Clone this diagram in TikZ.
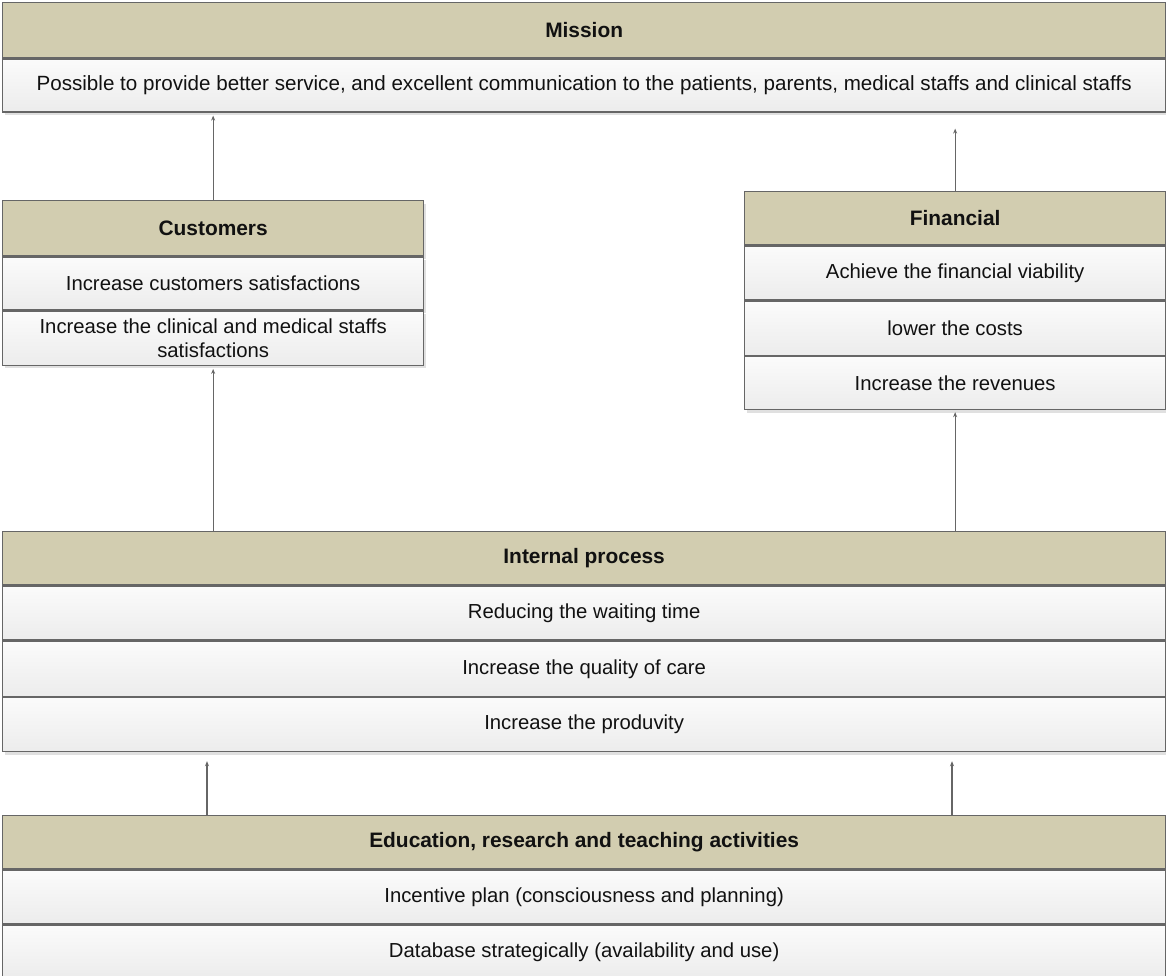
\documentclass[tikz,border=0pt]{standalone}
\usepackage{fontspec}
\setmainfont{Liberation Sans}
\usetikzlibrary{arrows.meta,shadows}

\definecolor{hdrfill}{HTML}{D2CDB0}
\definecolor{edgegray}{HTML}{666666}
\definecolor{rowtop}{HTML}{FBFBFB}
\definecolor{rowbot}{HTML}{ECECEC}
\definecolor{inkcol}{HTML}{111111}

\begin{document}
\begin{tikzpicture}[x=1pt,y=-1pt,
  box/.style={draw=edgegray, line width=1.3pt, rectangle, inner sep=0pt,
    anchor=north west, align=center, text=inkcol,
    font=\fontsize{20.3}{24}\selectfont,
    drop shadow={shadow xshift=2pt, shadow yshift=-3pt, opacity=1, fill=black!12}},
  hdr/.style={box, fill=hdrfill, font=\fontsize{20.9}{24}\selectfont\bfseries},
  row/.style={box, top color=rowtop, bottom color=rowbot},
  wide/.style={minimum width=1163pt},
  narrow/.style={minimum width=421pt},
  arr/.style={draw=edgegray, line width=1.3pt, -{Stealth[length=5pt,width=4pt]}}
]
\useasboundingbox (0,0) rectangle (1166,976);

% Mission
\node[hdr, wide, minimum height=55pt] (mh) at (2,2) {Mission};
\node[row, wide, minimum height=53pt] (m1) at (mh.south west)
  {\fontsize{20.6}{24}\selectfont Possible to provide better service, and excellent communication to the patients, parents, medical staffs and clinical staffs};

% Customers
\node[hdr, narrow, minimum height=55pt] (ch) at (2,200) {Customers};
\node[row, narrow, minimum height=53pt] (c1) at (ch.south west) {Increase customers satisfactions};
\node[row, narrow, minimum height=54pt] (c2) at (c1.south west)
  {Increase the clinical and medical staffs\\satisfactions};

% Financial
\node[hdr, narrow, minimum height=53pt] (fh) at (744,191) {Financial};
\node[row, narrow, minimum height=54pt] (f1) at (fh.south west) {Achieve the financial viability};
\node[row, narrow, minimum height=54pt] (f2) at (f1.south west) {lower the costs};
\node[row, narrow, minimum height=53pt] (f3) at (f2.south west) {Increase the revenues};

% Internal process
\node[hdr, wide, minimum height=53pt] (ih) at (2,531) {Internal process};
\node[row, wide, minimum height=54pt] (i1) at (ih.south west) {Reducing the waiting time};
\node[row, wide, minimum height=55pt] (i2) at (i1.south west) {Increase the quality of care};
\node[row, wide, minimum height=54pt] (i3) at (i2.south west) {Increase the produvity};

% Education, research and teaching activities
\node[hdr, wide, minimum height=53pt] (eh) at (2,815) {Education, research and teaching activities};
\node[row, wide, minimum height=54pt] (e1) at (eh.south west) {Incentive plan (consciousness and planning)};
\node[row, wide, minimum height=53pt] (e2) at (e1.south west) {Database strategically (availability and use)};

% Links between the perspectives
\coordinate (xl) at (207,0);
\coordinate (xr) at (952,0);
\draw[arr, shorten >=3pt] (ch.north) -- (ch.north |- m1.south);
\draw[arr, shorten >=16pt] (fh.north) -- (fh.north |- m1.south);
\draw[arr, shorten >=3pt] (ih.north -| c2.south) -- (c2.south);
\draw[arr, shorten >=2pt] (ih.north -| f3.south) -- (f3.south);
\draw[arr, shorten >=9pt] (eh.north -| xl) -- (i3.south -| xl);
\draw[arr, shorten >=9pt] (eh.north -| xr) -- (i3.south -| xr);
\end{tikzpicture}
\end{document}
